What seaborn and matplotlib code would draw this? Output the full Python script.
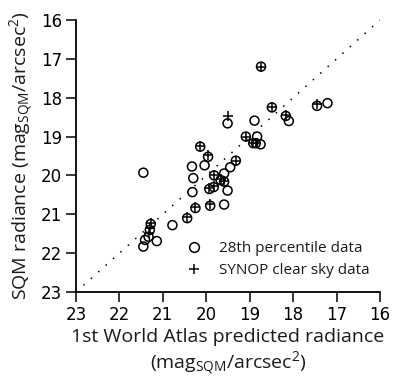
import matplotlib
matplotlib.use("Agg")
import matplotlib.pyplot as plt
import seaborn as sns
import pandas as pd
from matplotlib.lines import Line2D

# 28th percentile data (x = atlas prediction, y = SQM measured)
pct_x = [21.45, 18.74, 18.49, 18.17, 18.10, 17.45, 17.21, 19.51, 18.89, 19.09,
         18.83, 18.92, 18.86, 18.75, 20.14, 19.96, 19.32, 20.33, 20.04, 19.45,
         20.30, 19.82, 19.59, 19.67, 19.59, 20.32, 19.93, 19.83, 19.51, 20.25,
         19.91, 19.59, 20.44, 20.78, 21.28, 21.30, 21.33, 21.41, 21.45, 21.14]
pct_y = [19.93, 17.20, 18.25, 18.47, 18.60, 18.21, 18.14, 18.66, 18.59, 19.00,
         19.00, 19.17, 19.17, 19.20, 19.26, 19.52, 19.62, 19.77, 19.74, 19.79,
         20.07, 20.00, 19.95, 20.12, 20.16, 20.43, 20.35, 20.30, 20.39, 20.84,
         20.78, 20.75, 21.10, 21.28, 21.25, 21.40, 21.58, 21.66, 21.83, 21.69]

# SYNOP clear sky data
syn_x = [18.74, 18.49, 18.17, 17.46, 19.51, 19.09, 18.92, 18.86, 20.14, 19.96,
         19.32, 19.82, 19.67, 19.59, 19.93, 19.83, 20.25, 19.91, 20.44, 21.28,
         21.30, 21.31]
syn_y = [17.20, 18.23, 18.45, 18.16, 18.46, 19.00, 19.17, 19.17, 19.24, 19.47,
         19.62, 19.98, 20.10, 20.14, 20.33, 20.28, 20.82, 20.74, 21.08, 21.23,
         21.36, 21.47]

ticks = [23, 22, 21, 20, 19, 18, 17, 16]
line_ends = [23, 16]

sns.set_theme(style="ticks")
label_font = ["Open Sans", "DejaVu Sans"]
plt.rcParams["font.family"] = ["DejaVu Sans"]
plt.rcParams["mathtext.fontset"] = "custom"
plt.rcParams["mathtext.rm"] = "Open Sans"
plt.rcParams["mathtext.it"] = "Open Sans:italic"

fig = plt.figure(figsize=(3.93, 3.89), dpi=100)
ax = fig.add_axes([0.1934, 0.2494, 0.7736, 0.6992])

df_p = pd.DataFrame({"x": pct_x, "y": pct_y})
df_s = pd.DataFrame({"x": syn_x, "y": syn_y})

ax.plot(line_ends, line_ends, linestyle=(0, (1, 5.5)), color="black", lw=1.1)
sns.scatterplot(data=df_p, x="x", y="y", ax=ax, marker="o", s=42,
                facecolors="none", edgecolor="black", linewidth=1.1)
sns.scatterplot(data=df_s, x="x", y="y", ax=ax, marker="+", s=55,
                color="black", linewidth=1.1)

ax.set_xlim(23, 16)
ax.set_ylim(23, 16)
ax.set_xticks(ticks)
ax.set_yticks(ticks)
ax.tick_params(axis="both", labelsize=12, length=7, width=1.1, color="black",
               labelcolor="black", pad=3)
for s in ["left", "bottom"]:
    ax.spines[s].set_linewidth(1.3)
    ax.spines[s].set_color("black")
sns.despine(ax=ax)

ax.set_xlabel("1st World Atlas predicted radiance\n(mag$_\\mathrm{SQM}$/arcsec$^2$)",
              fontsize=14, family=label_font, labelpad=3, color="#1a1a1a",
              linespacing=1.15)
ax.set_ylabel("SQM radiance (mag$_\\mathrm{SQM}$/arcsec$^2$)",
              fontsize=14, family=label_font, labelpad=4, color="#1a1a1a")

handles = [
    Line2D([], [], marker="o", linestyle="none", markerfacecolor="none",
           markeredgecolor="black", markersize=7, markeredgewidth=1.1),
    Line2D([], [], marker="+", linestyle="none", color="black",
           markersize=7.5, markeredgewidth=1.1),
]
leg = ax.legend(handles, ["28th percentile data", "SYNOP clear sky data"],
                loc="lower right", frameon=False, handletextpad=0.6,
                prop={"family": label_font, "size": 11}, borderaxespad=0.3,
                labelspacing=0.45, bbox_to_anchor=(1.0, 0.012))
for t in leg.get_texts():
    t.set_color("#1a1a1a")

fig.savefig("out.png", dpi=100)
